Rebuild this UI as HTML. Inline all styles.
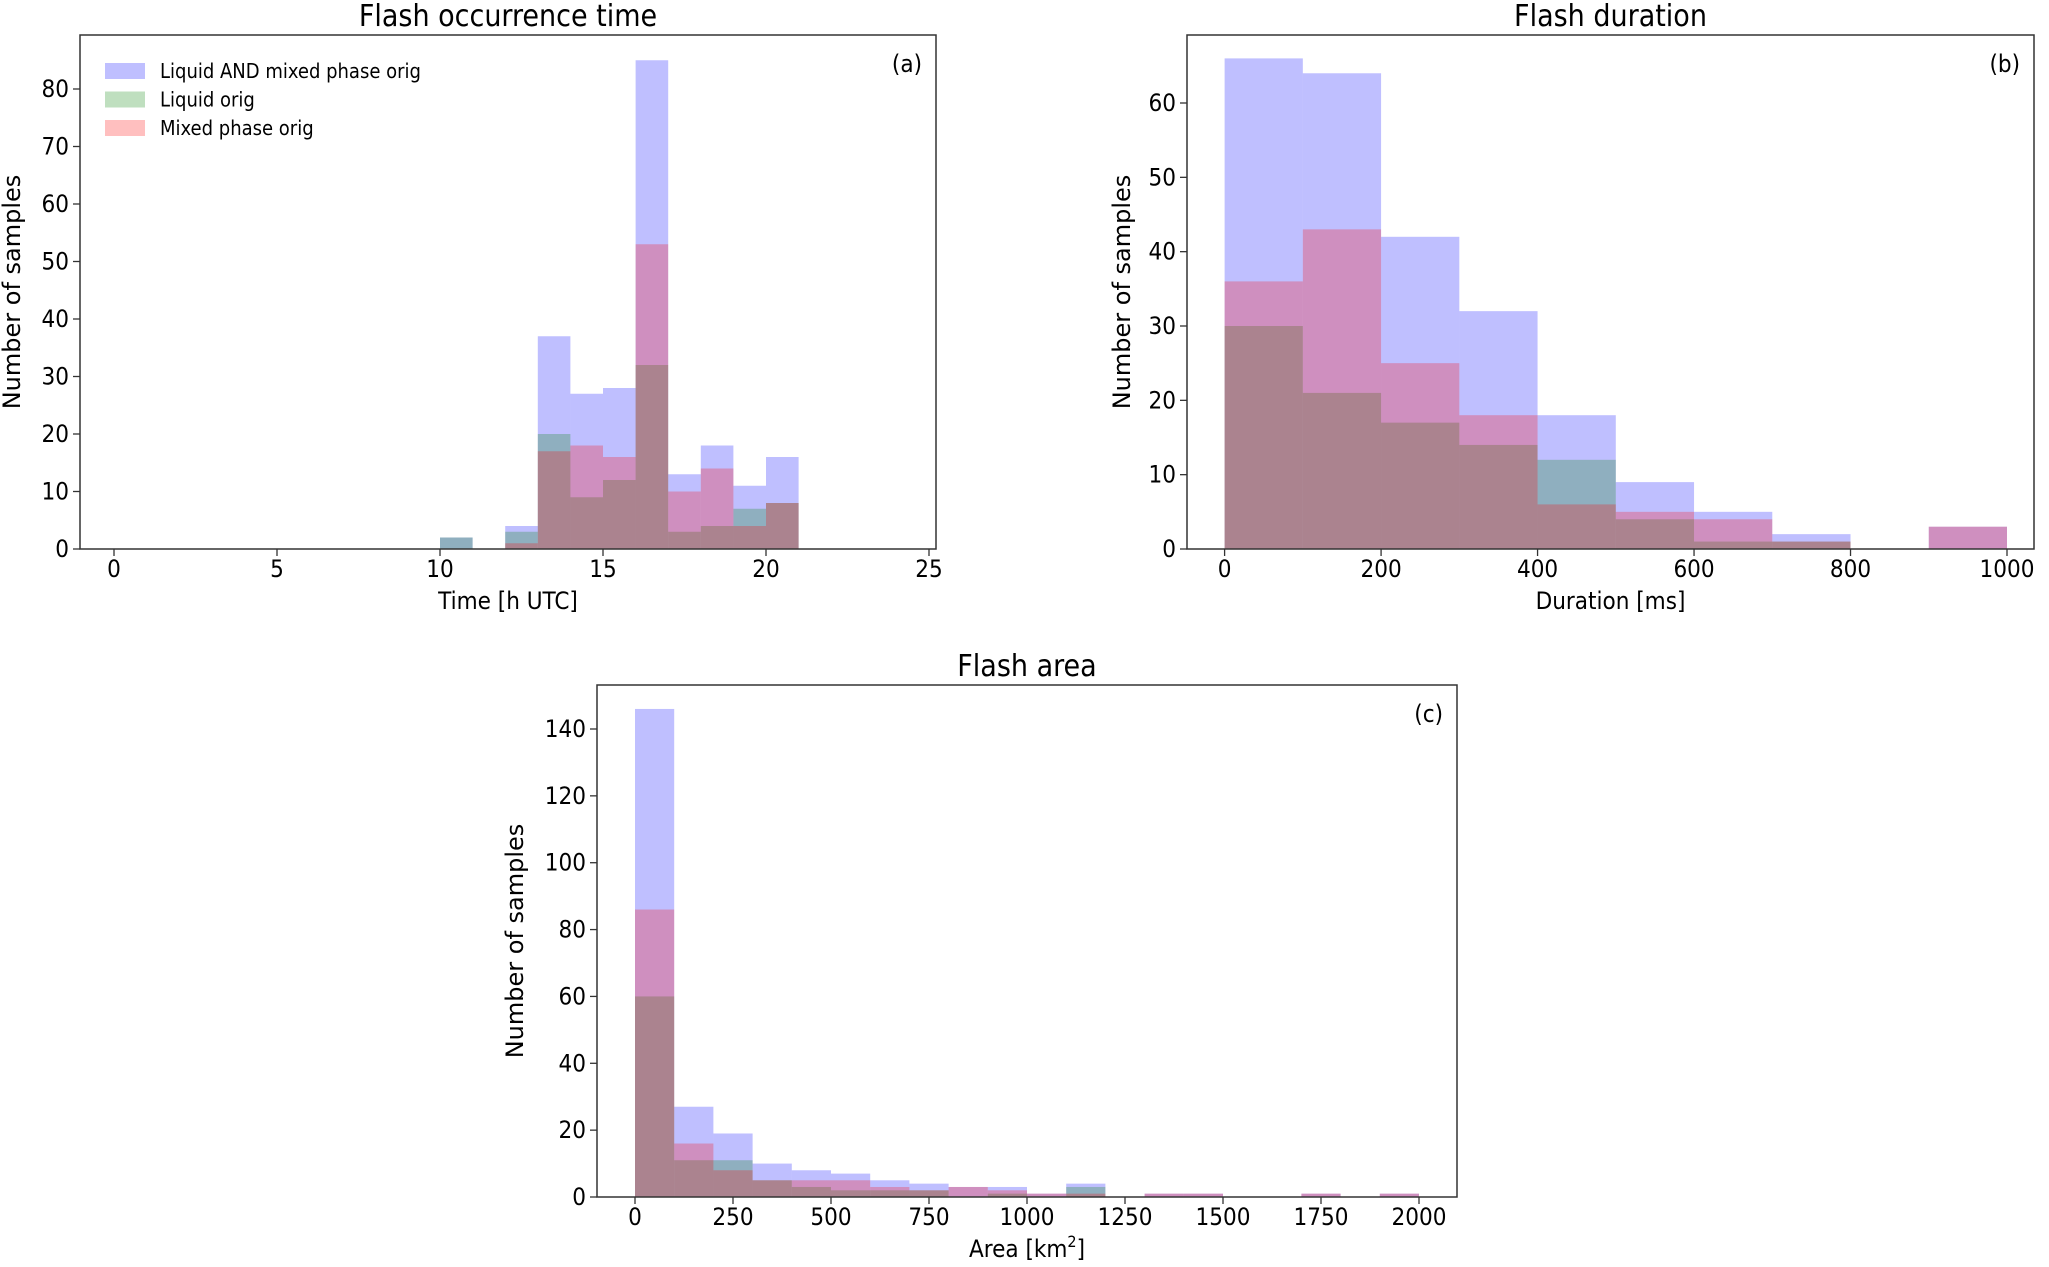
<!DOCTYPE html>
<html><head><meta charset="utf-8"><style>
body{margin:0;background:#fff}
svg text{font-family:"DejaVu Sans Condensed","DejaVu Sans","Liberation Sans",sans-serif;fill:#000}
</style></head><body>
<svg id="fig" width="2049" height="1262" viewBox="0 0 2049 1262" xmlns="http://www.w3.org/2000/svg"></svg>
<script>
// Panel (a): flash occurrence time
const aBins = [10,11,12,13,14,15,16,17,18,19,20,21];
const aAll = [2,0,4,37,27,28,85,13,18,11,16];
const aLiquid = [2,0,3,20,9,12,32,3,4,7,8];
const aMixed = [0,0,1,17,18,16,53,10,14,4,8];
const aXTicks = [0,5,10,15,20,25];
const aYTicks = [0,10,20,30,40,50,60,70,80];
// Panel (b): flash duration
const bBins = [0,100,200,300,400,500,600,700,800,900,1000];
const bAll = [66,64,42,32,18,9,5,2,0,3];
const bLiquid = [30,21,17,14,12,4,1,1,0,0];
const bMixed = [36,43,25,18,6,5,4,1,0,3];
const bXTicks = [0,200,400,600,800,1000];
const bYTicks = [0,10,20,30,40,50,60];
// Panel (c): flash area
const cBins = [0,100,200,300,400,500,600,700,800,900,1000,1100,1200,1300,1400,1500,1600,1700,1800,1900,2000];
const cAll = [146,27,19,10,8,7,5,4,3,3,1,4,0,1,1,0,0,1,0,1];
const cLiquid = [60,11,11,5,3,2,2,2,0,1,0,3,0,0,0,0,0,0,0,0];
const cMixed = [86,16,8,5,5,5,3,2,3,2,1,1,0,1,1,0,0,1,0,1];
const cXTicks = [0,250,500,750,1000,1250,1500,1750,2000];
const cYTicks = [0,20,40,60,80,100,120,140];

const NS="http://www.w3.org/2000/svg";
const svg=document.getElementById('fig');
function mk(tag,attrs,parent){const e=document.createElementNS(NS,tag);for(const k in attrs)e.setAttribute(k,attrs[k]);(parent||svg).appendChild(e);return e;}

function panel(p){
  const g=mk('g',{});
  
  
  const sx=v=>p.px0+(v-p.x0)*(p.px1-p.px0)/(p.x1-p.x0);
  const sy=v=>p.py0-(v-p.y0)*(p.py0-p.py1)/(p.y1-p.y0);
  const series=[[p.all,'rgba(0,0,255,0.25)','bar-all'],[p.liq,'rgba(0,128,0,0.25)','bar-liquid'],[p.mix,'rgba(255,0,0,0.25)','bar-mixed']];
  series.forEach(([vals,col,nm])=>{
    vals.forEach((v,i)=>{
      if(v<=0)return;
      const x0=sx(p.bins[i]),x1=sx(p.bins[i+1]);
      const r=mk('rect',{x:x0,y:sy(v),width:x1-x0,height:sy(0)-sy(v),fill:col},g);
      
      
    });
  });
  const box=mk('rect',{x:p.bx0,y:p.by0,width:p.bx1-p.bx0,height:p.by1-p.by0,fill:'none',stroke:'#333','stroke-width':1.5},g);
  
  
  p.xt.forEach(t=>{
    const x=sx(t);
    mk('line',{x1:x,x2:x,y1:p.by1,y2:p.by1+7,stroke:'#333','stroke-width':1.3},g);
    const tx=mk('text',{x:x,y:p.by1+28,'text-anchor':'middle','font-size':24},g);
    tx.textContent=t;
    
    
  });
  p.yt.forEach(t=>{
    const y=sy(t);
    mk('line',{x1:p.bx0-7,x2:p.bx0,y1:y,y2:y,stroke:'#333','stroke-width':1.3},g);
    const tx=mk('text',{x:p.bx0-11,y:y+8,'text-anchor':'end','font-size':24},g);
    tx.textContent=t;
    
    
  });
  const ti=mk('text',{x:(p.bx0+p.bx1)/2,y:p.by0-9,'text-anchor':'middle','font-size':30},g);
  ti.textContent=p.title;
  
  
  const xl=mk('text',{x:(p.bx0+p.bx1)/2,y:p.by1+60,'text-anchor':'middle','font-size':24},g);
  xl.innerHTML=p.xlabel;
  
  
  const cy=(p.by0+p.by1)/2;
  const yl=mk('text',{x:p.ylx,y:cy,'text-anchor':'middle','font-size':24,transform:`rotate(-90 ${p.ylx} ${cy})`,style:'font-family:"DejaVu Sans",sans-serif'},g);
  yl.textContent='Number of samples';
  
  
  const pl=mk('text',{x:p.bx1-14,y:p.by0+37,'text-anchor':'end','font-size':24},g);
  pl.textContent=p.label;
  
  
}

panel({name:'panel-a-time',bins:aBins,all:aAll,liq:aLiquid,mix:aMixed,xt:aXTicks,yt:aYTicks,
  x0:0,x1:25,px0:114,px1:929,y0:0,y1:80,py0:549,py1:89,bx0:80,bx1:936,by0:35,by1:549,
  title:'Flash occurrence time',xlabel:'Time [h UTC]',ylx:20,label:'(a)'});
panel({name:'panel-b-duration',bins:bBins,all:bAll,liq:bLiquid,mix:bMixed,xt:bXTicks,yt:bYTicks,
  x0:0,x1:1000,px0:1224.6,px1:2007,y0:0,y1:60,py0:549,py1:103,bx0:1187,bx1:2034,by0:35,by1:549,
  title:'Flash duration',xlabel:'Duration [ms]',ylx:1130,label:'(b)'});
panel({name:'panel-c-area',bins:cBins,all:cAll,liq:cLiquid,mix:cMixed,xt:cXTicks,yt:cYTicks,
  x0:0,x1:2000,px0:635,px1:1419,y0:0,y1:140,py0:1197,py1:729,bx0:597,bx1:1457,by0:685,by1:1197,
  title:'Flash area',xlabel:'Area [km<tspan font-size="16" dy="-10">2</tspan><tspan dy="10">]</tspan>',ylx:523,label:'(c)'});

// legend in panel a
const legItems=[['Liquid AND mixed phase orig','rgba(0,0,255,0.25)'],['Liquid orig','rgba(0,128,0,0.25)'],['Mixed phase orig','rgba(255,0,0,0.25)']];
const lg=mk('g',{});


legItems.forEach((it,i)=>{
  const y=71+i*28.5;
  const r=mk('rect',{x:105,y:y-8,width:40,height:16,fill:it[1]},lg);
  
  
  const t=mk('text',{x:160,y:y+7,'font-size':20},lg);
  t.textContent=it[0];
  
  
});
</script>
</body></html>
